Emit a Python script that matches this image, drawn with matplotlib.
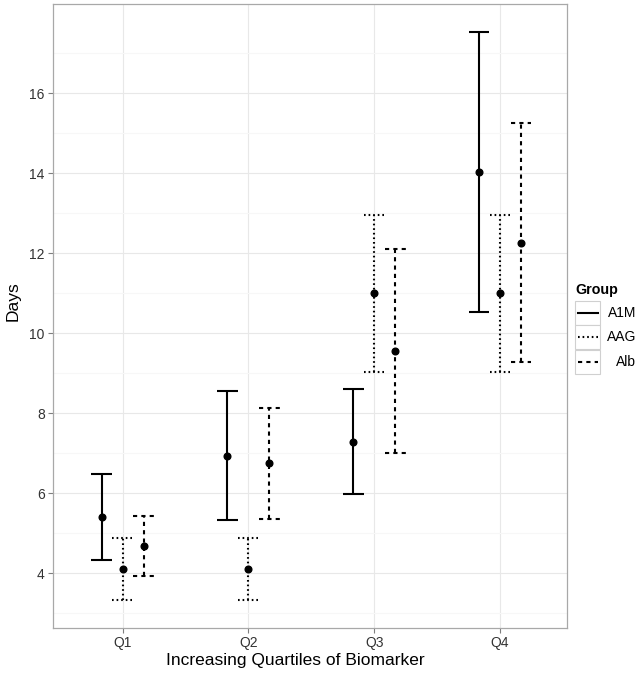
import numpy as np
import matplotlib
matplotlib.use("Agg")
import matplotlib.pyplot as plt
from matplotlib.lines import Line2D
from matplotlib.patches import Rectangle

plt.rcParams['font.family'] = ['Liberation Sans', 'DejaVu Sans']

# dados (media e limites do intervalo, em dias)
quartiles = ["Q1", "Q2", "Q3", "Q4"]
groups = ["A1M", "AAG", "Alb"]

a1m_mean = [5.40, 6.94, 7.28, 14.03]
a1m_low = [4.34, 5.33, 5.97, 10.54]
a1m_high = [6.47, 8.56, 8.60, 17.52]

aag_mean = [4.10, 4.10, 11.00, 11.00]
aag_low = [3.33, 3.33, 9.03, 9.03]
aag_high = [4.87, 4.87, 12.96, 12.96]

alb_mean = [4.67, 6.75, 9.56, 12.25]
alb_low = [3.92, 5.35, 7.00, 9.27]
alb_high = [5.43, 8.14, 12.11, 15.25]

yticks = [4, 6, 8, 10, 12, 14, 16]

means = [a1m_mean, aag_mean, alb_mean]
lows = [a1m_low, aag_low, alb_low]
highs = [a1m_high, aag_high, alb_high]
styles = ['-', (0, (0.8, 1.4)), (0, (2.0, 2.0))]
offsets = [-0.167, 0.0, 0.167]
cap = 0.082

fig = plt.figure(figsize=(6.39, 6.75), dpi=100)
ax = fig.add_axes([0.0834, 0.0701, 0.8034, 0.924])

x = np.arange(1, len(quartiles) + 1)
for m, lo, hi, ls, off in zip(means, lows, highs, styles, offsets):
    xs = x + off
    ax.vlines(xs, lo, hi, colors='black', linestyles=[ls], linewidth=1.5, zorder=3)
    ax.hlines(hi, xs - cap, xs + cap, colors='black', linestyles=[ls], linewidth=1.5, zorder=3)
    ax.hlines(lo, xs - cap, xs + cap, colors='black', linestyles=[ls], linewidth=1.5, zorder=3)
    ax.plot(xs, m, 'o', color='black', markersize=4.8, zorder=4)

ax.set_xlim(0.448, 4.53)
ax.set_ylim(2.64, 18.23)
ax.set_xticks(x)
ax.set_xticklabels(quartiles)
ax.set_yticks(yticks)
ax.set_yticks(np.arange(3, 18, 2), minor=True)

# tema parecido com theme_bw antigo
ax.grid(True, which='major', color='#E8E8E8', linewidth=0.8, zorder=0)
ax.grid(True, which='minor', axis='y', color='#F7F7F7', linewidth=0.8, zorder=0)
ax.set_axisbelow(True)
for s in ax.spines.values():
    s.set_color('#A8A8A8')
    s.set_linewidth(0.9)
ax.tick_params(axis='both', which='major', length=3.6, width=0.8, color='#7F7F7F',
               labelsize=10, labelcolor='#333333', pad=2.5)
ax.tick_params(axis='y', which='minor', length=0)

fig.text(295 / 639, 1 - 661 / 675, "Increasing Quartiles of Biomarker", fontsize=12.5,
         ha='center', va='center')
fig.text(13 / 639, 1 - 301 / 675, "Days", fontsize=12.5, rotation=90,
         ha='center', va='center')

# legenda desenhada a mao (caixas em volta de cada chave, como no ggplot)
W, H = 639.0, 675.0
fig.text(575 / W, 1 - 290 / H, "Group", fontsize=10.3, fontweight='bold', ha='left', va='center')
key_top = 300.7
key_h = 24.4
for i, (g, ls) in enumerate(zip(groups, styles)):
    y0 = key_top + i * key_h
    fig.add_artist(Rectangle((575 / W, 1 - (y0 + key_h) / H), 25 / W, key_h / H,
                             transform=fig.transFigure, facecolor='white',
                             edgecolor='#D0D0D0', linewidth=0.8))
    yc = 1 - (y0 + key_h / 2) / H
    fig.add_artist(Line2D([577.5 / W, 597.5 / W], [yc, yc], transform=fig.transFigure,
                          color='black', linestyle=ls, linewidth=1.5))
    fig.text(636 / W, yc, g, fontsize=10, ha='right', va='center')

fig.savefig("out.png", dpi=100)
